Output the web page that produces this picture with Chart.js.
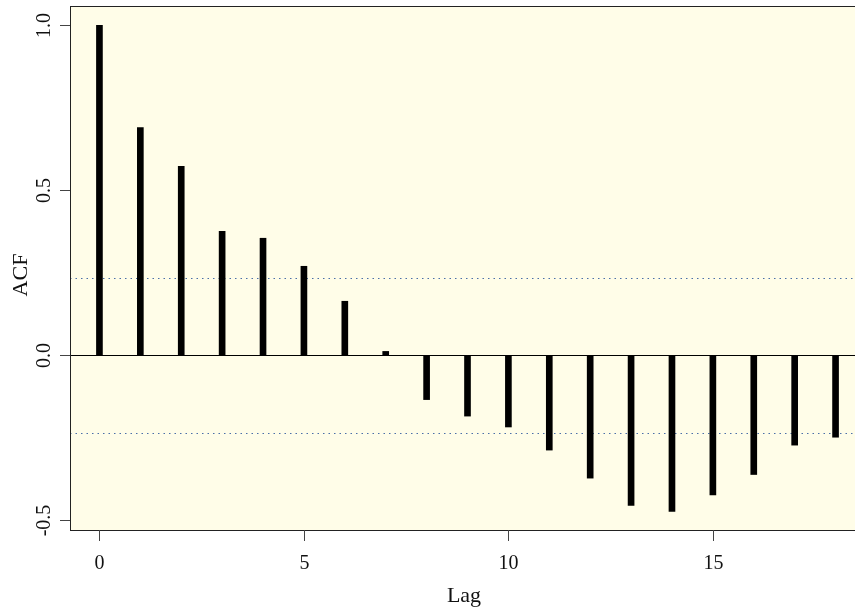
<!DOCTYPE html>
<html>
<head>
<meta charset="utf-8">
<script src="https://cdn.jsdelivr.net/npm/chart.js@4/dist/chart.umd.min.js"></script>
<style>
  html, body { margin:0; padding:0; background:#fff; overflow:hidden; }
  canvas { display:block; }
</style>
</head>
<body>
<canvas id="acf" width="875" height="609"></canvas>
<script>
// ACF plot, R style

const lags = [0,1,2,3,4,5,6,7,8,9,10,11,12,13,14,15,16,17,18];
const acfValues = [1.0,0.690,0.573,0.376,0.355,0.270,0.164,0.012,-0.134,-0.184,-0.217,-0.287,-0.372,-0.455,-0.473,-0.423,-0.361,-0.272,-0.248];
const ciBound = 0.236;
const xTicks = [0,5,10,15];
const yTicks = [-0.5,0.0,0.5,1.0];
const yTickLabels = ['-0.5','0.0','0.5','1.0'];

const FONT = '"Liberation Serif", "DejaVu Serif", serif';
const BG = '#fffde8';

// ---------- R-like frame, axes, ref lines ----------
const rFrame = {
  id: 'rFrame',
  beforeDatasetsDraw(chart) {
    const { ctx, chartArea: a, scales: { x, y } } = chart;
    ctx.save();
    ctx.fillStyle = BG;
    ctx.fillRect(a.left, a.top, a.right - a.left, a.bottom - a.top);

    // confidence bounds
    ctx.strokeStyle = '#4a6fa8';
    ctx.lineWidth = 1;
    ctx.setLineDash([1.5, 4]);
    [ciBound, -ciBound].forEach(v => {
      const py = Math.round(y.getPixelForValue(v)) + 0.5;
      ctx.beginPath(); ctx.moveTo(a.left, py); ctx.lineTo(a.right, py); ctx.stroke();
    });
    ctx.setLineDash([]);

    // zero line
    const py0 = Math.round(y.getPixelForValue(0)) + 0.5;
    ctx.strokeStyle = '#000';
    ctx.beginPath(); ctx.moveTo(a.left, py0); ctx.lineTo(a.right, py0); ctx.stroke();
    ctx.restore();
  },
  afterDatasetsDraw(chart) {
    const { ctx, chartArea: a, scales: { x, y } } = chart;
    ctx.save();
    ctx.strokeStyle = '#222';
    ctx.lineWidth = 1;
    ctx.strokeRect(Math.round(a.left) + 0.5, Math.round(a.top) + 0.5, a.right - a.left, Math.round(a.bottom - a.top));

    ctx.fillStyle = '#111';
    ctx.font = '20px ' + FONT;

    // x ticks
    ctx.strokeStyle = '#444';
    ctx.textAlign = 'center';
    ctx.textBaseline = 'middle';
    xTicks.forEach(t => {
      const px = Math.round(x.getPixelForValue(t)) + 0.5;
      ctx.beginPath(); ctx.moveTo(px, a.bottom); ctx.lineTo(px, a.bottom + 11); ctx.stroke();
      ctx.fillText(String(t), px, a.bottom + 34);
    });

    // y ticks, labels rotated
    yTicks.forEach((t, i) => {
      const py = Math.round(y.getPixelForValue(t)) + 0.5;
      ctx.beginPath(); ctx.moveTo(a.left - 10, py); ctx.lineTo(a.left, py); ctx.stroke();
      ctx.save();
      ctx.translate(45, py);
      ctx.rotate(-Math.PI / 2);
      ctx.fillText(yTickLabels[i], 0, 0);
      ctx.restore();
    });

    // axis titles
    ctx.font = '22px ' + FONT;
    ctx.fillText('Lag', 464, 596);
    ctx.save();
    ctx.translate(21, 275);
    ctx.rotate(-Math.PI / 2);
    ctx.fillText('ACF', 0, 0);
    ctx.restore();
    ctx.restore();
  }
};

new Chart(document.getElementById('acf'), {
  type: 'bar',
  data: {
    datasets: [{
      data: lags.map((l, i) => ({ x: l, y: acfValues[i] })),
      backgroundColor: '#000',
      borderWidth: 0,
      barThickness: 6
    }]
  },
  options: {
    responsive: false,
    animation: false,
    layout: { padding: { left: 70, top: 6, right: 10, bottom: 79 } },
    plugins: { legend: { display: false }, tooltip: { enabled: false } },
    scales: {
      x: { type: 'linear', offset: false, min: -0.72, max: 18.72, display: false },
      y: { type: 'linear', min: -0.5292, max: 1.0588, display: false }
    }
  },
  plugins: [rFrame]
});
</script>
</body>
</html>
